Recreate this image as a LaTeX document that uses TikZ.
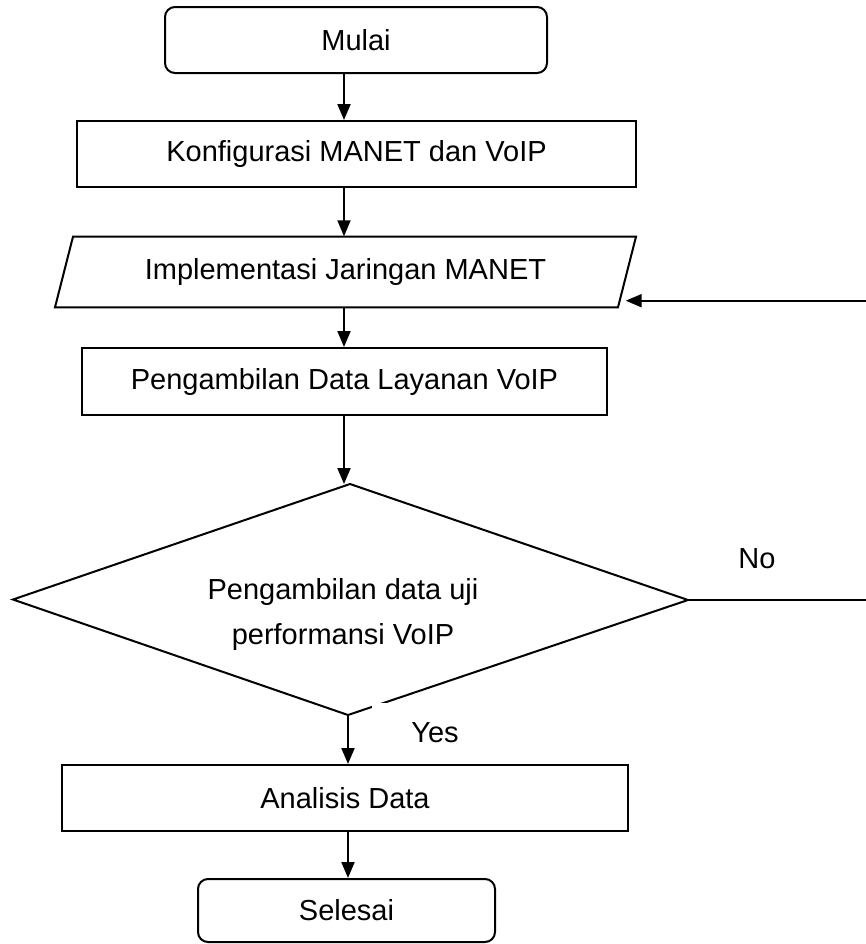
\documentclass[tikz,border=0pt]{standalone}
\usepackage{fontspec}
\setmainfont{Liberation Sans}
\usetikzlibrary{arrows.meta,calc}
\begin{document}
\begin{tikzpicture}[x=0.5pt,y=-0.5pt,
  every node/.style={font=\fontsize{14.5}{17.5}\selectfont, inner sep=0pt},
  procbox/.style={draw=black, line width=1pt, rectangle},
  termbox/.style={draw=black, line width=1pt, rectangle, rounded corners=5pt},
  shapeline/.style={draw=black, line width=1pt, line join=miter},
  arr/.style={draw=black, line width=1pt, -{Triangle[length=8pt,width=6.5pt]}},
  plainline/.style={draw=black, line width=0.8pt}]
\useasboundingbox (0,0) rectangle (866,944);
\coordinate (spine) at (344,0);
% Start
\node[termbox, minimum width=191pt, minimum height=33pt] (start) at (356,40) {Mulai};
% Konfigurasi
\node[procbox, minimum width=279.5pt, minimum height=33pt] (konf) at (356.5,154) {Konfigurasi MANET dan VoIP};
% Implementasi (parallelogram)
\coordinate (p1) at (73,236.7);
\coordinate (p2) at (636,236.7);
\coordinate (p3) at (618,307.3);
\coordinate (p4) at (55,307.3);
\draw[shapeline] (p1) -- (p2) -- (p3) -- (p4) -- cycle;
\node[minimum height=35.3pt] (impl) at (345.5,272) {Implementasi Jaringan MANET};
% Pengambilan Data
\node[procbox, minimum width=262.5pt, minimum height=33.5pt] (peng) at (344.5,381.5) {Pengambilan Data Layanan VoIP};
% Decision diamond
\coordinate (dt) at (350,484);
\coordinate (dl) at (13,599.5);
\coordinate (dr) at (688,600);
\coordinate (db) at (348,715);
\draw[shapeline] (dt) -- (dr) -- (db) -- (dl) -- cycle;
\node[align=center] (dec) at (343,614) {Pengambilan data uji\\[5pt]performansi VoIP};
% Analisis
\node[procbox, minimum width=283pt, minimum height=33pt] (anal) at (345,798) {Analisis Data};
% Selesai
\node[termbox, minimum width=148.5pt, minimum height=31.5pt] (sel) at (346.5,910.5) {Selesai};
% Labels
\node (no) at (757,559) {No};
\node[fill=white, minimum width=63pt, minimum height=30pt] (yes) at (435,733) {Yes};
% Connectors
\draw[arr] (start.south -| spine) -- (konf.north -| spine);
\draw[arr] (konf.south -| spine) -- (impl.north -| spine);
\draw[arr] (impl.south -| spine) -- (peng.north -| spine);
\draw[arr] (peng.south -| spine) -- (spine |- dt);
\draw[arr] (db) -- (db |- anal.north);
\draw[arr] (anal.south -| db) -- (sel.north -| db);
% No branch / feedback
\coordinate (noR) at (866,600);
\coordinate (fbR) at (866,300.7);
\coordinate (fbin) at (625.7,300.7);
\draw[plainline] (dr) -- (noR);
\draw[arr] (fbR) -- (fbin);
\end{tikzpicture}
\end{document}
